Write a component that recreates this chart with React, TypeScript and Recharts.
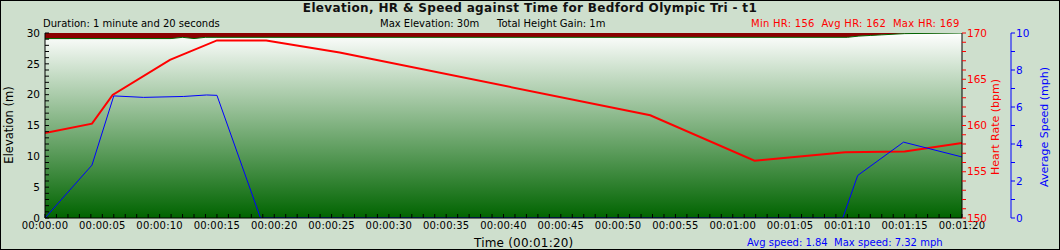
import React from 'react';
import { ComposedChart, Area, Line, XAxis, YAxis, CartesianGrid } from 'recharts';

// Elevation (m) over time (s)
const elevTimes = [0, 11, 12, 13, 14, 15, 70, 71, 72, 73, 75, 80];
const elevValues = [29.1, 29.1, 29.3, 29.1, 29.3, 29.3, 29.3, 29.5, 29.6, 29.7, 29.9, 30];
// Heart rate (bpm) over time (s)
const hrTimes = [0, 4.1, 5.9, 10.9, 15, 19.3, 25.7, 52.8, 61.9, 69.8, 75, 80];
const hrValues = [159.2, 160.2, 163.3, 167.1, 169.2, 169.2, 167.9, 161.1, 156.2, 157.1, 157.2, 158.1];
// Average speed (mph) over time (s)
const speedTimes = [0, 4.1, 6, 8.6, 12.1, 14.1, 15, 18.8, 69.6, 70.9, 74.9, 80];
const speedValues = [0, 2.86, 6.6, 6.52, 6.57, 6.65, 6.63, 0, 0, 2.3, 4.1, 3.3];

// Tick labels
const elevLabels = [0, 5, 10, 15, 20, 25, 30];
const hrLabels = [150, 155, 160, 165, 170];
const speedLabels = [0, 2, 4, 6, 8, 10];
const timeLabels = [
  '00:00:00', '00:00:05', '00:00:10', '00:00:15', '00:00:20', '00:00:25', '00:00:30', '00:00:35', '00:00:40',
  '00:00:45', '00:00:50', '00:00:55', '00:01:00', '00:01:05', '00:01:10', '00:01:15', '00:01:20',
];

const range = (a: number, b: number) => {
  const r: number[] = [];
  for (let i = a; i <= b; i++) r.push(i);
  return r;
};

const elevData = elevTimes.map((t, i) => ({ t, v: elevValues[i] }));
const hrData = hrTimes.map((t, i) => ({ t, v: hrValues[i] }));
const speedData = speedTimes.map((t, i) => ({ t, v: speedValues[i] }));

const FONT = "'DejaVu Sans', Verdana, sans-serif";

const txt = (extra: React.CSSProperties): React.CSSProperties => ({
  position: 'absolute',
  fontFamily: FONT,
  whiteSpace: 'pre',
  lineHeight: 1,
  ...extra,
});

export default function App() {
  return (
    <div style={{ position: 'absolute', left: 0, top: 0, width: 1060, height: 250, background: '#cedfcd', overflow: 'hidden' }}>
      <ComposedChart width={1060} height={250} data={hrData} margin={{ top: 33, right: 0, bottom: 0, left: 0 }}>
        <defs>
          <linearGradient id="elevGrad" x1="0" y1="0" x2="0" y2="1">
            <stop offset="0%" stopColor="#ffffff" />
            <stop offset="100%" stopColor="#006400" />
          </linearGradient>
        </defs>
        <CartesianGrid xAxisId="t" yAxisId="elev" fill="#8b0000" horizontal={false} vertical={false} stroke="none" />
        <XAxis
          xAxisId="t"
          type="number"
          dataKey="t"
          domain={[0, 80]}
          ticks={range(0, 80)}
          interval={0}
          height={32}
          tickSize={-4}
          tickMargin={8}
          stroke="#000"
          tickFormatter={(v: number) => (v % 5 === 0 ? timeLabels[v / 5] : '')}
          tick={{ fontSize: 10, fill: '#000', fontFamily: FONT, letterSpacing: 0.2 }}
          allowDataOverflow
        />
        <XAxis xAxisId="top" orientation="top" type="number" domain={[0, 80]} height={0} tick={false} tickLine={false} stroke="#000" />
        <YAxis
          yAxisId="elev"
          orientation="left"
          type="number"
          domain={[0, 30]}
          ticks={range(0, 30)}
          interval={0}
          width={45}
          tickSize={-4}
          tickMargin={9}
          stroke="#000"
          tickFormatter={(v: number) => (elevLabels.includes(v) ? String(v) : '')}
          tick={{ fontSize: 10.5, fill: '#000', fontFamily: FONT }}
          allowDataOverflow
        />
        <YAxis
          yAxisId="hr"
          orientation="right"
          type="number"
          domain={[150, 170]}
          ticks={range(150, 170)}
          interval={0}
          width={49}
          tickSize={4}
          tickMargin={1}
          stroke="#000"
          tickLine={{ stroke: '#ff0000' }}
          tickFormatter={(v: number) => (hrLabels.includes(v) ? String(v) : '')}
          tick={{ fontSize: 10.5, fill: '#ff0000', fontFamily: FONT }}
          allowDataOverflow
        />
        <YAxis
          yAxisId="spd"
          orientation="right"
          type="number"
          domain={[0, 10]}
          ticks={range(0, 10)}
          interval={0}
          width={49}
          tickSize={4}
          tickMargin={1}
          stroke="#0000ff"
          tickFormatter={(v: number) => (speedLabels.includes(v) ? String(v) : '')}
          tick={{ fontSize: 10.5, fill: '#0000ff', fontFamily: FONT }}
          allowDataOverflow
        />
        <Area
          xAxisId="t"
          yAxisId="elev"
          data={elevData}
          dataKey="v"
          type="linear"
          stroke="#006400"
          strokeWidth={1}
          fill="url(#elevGrad)"
          fillOpacity={1}
          isAnimationActive={false}
          dot={false}
          activeDot={false}
        />
        <Line
          xAxisId="t"
          yAxisId="hr"
          data={hrData}
          dataKey="v"
          type="linear"
          stroke="#ff0000"
          strokeWidth={2}
          dot={false}
          activeDot={false}
          isAnimationActive={false}
        />
        <Line
          xAxisId="t"
          yAxisId="spd"
          data={speedData}
          dataKey="v"
          type="linear"
          stroke="#0000ff"
          strokeWidth={1}
          dot={false}
          activeDot={false}
          isAnimationActive={false}
        />
      </ComposedChart>

      <div style={txt({ left: 0, width: 1060, top: 2, textAlign: 'center', fontSize: 12, letterSpacing: 0.35, fontWeight: 'bold', color: '#111' })}>
        Elevation, HR &amp; Speed against Time for Bedford Olympic Tri - t1
      </div>
      <div style={txt({ left: 43, top: 19, fontSize: 10, color: '#000' })}>Duration: 1 minute and 20 seconds</div>
      <div style={txt({ left: 380, top: 19, fontSize: 10, color: '#000' })}>Max Elevation: 30m</div>
      <div style={txt({ left: 497, top: 19, fontSize: 10, color: '#000' })}>Total Height Gain: 1m</div>
      <div style={txt({ left: 751, top: 19, fontSize: 10, letterSpacing: 0.27, color: '#ff0000' })}>{'Min HR: 156  Avg HR: 162  Max HR: 169'}</div>
      <div style={txt({ left: 474, top: 237, fontSize: 12, letterSpacing: 0.2, color: '#000' })}>Time (00:01:20)</div>
      <div style={txt({ left: 747, top: 238, fontSize: 10, color: '#0000ff' })}>{'Avg speed: 1.84  Max speed: 7.32 mph'}</div>

      <div style={txt({ left: 10, top: 125, fontSize: 11.5, color: '#000', transform: 'translate(-50%, -50%) rotate(-90deg)' })}>Elevation (m)</div>
      <div style={txt({ left: 995, top: 127, fontSize: 11, color: '#ff0000', transform: 'translate(-50%, -50%) rotate(-90deg)' })}>Heart Rate (bpm)</div>
      <div style={txt({ left: 1044, top: 127, fontSize: 11, color: '#0000ff', transform: 'translate(-50%, -50%) rotate(-90deg)' })}>Average Speed (mph)</div>

      <div style={{ position: 'absolute', left: 0, top: 0, width: 1060, height: 250, boxSizing: 'border-box', border: '1px solid #000', pointerEvents: 'none' }} />
    </div>
  );
}
